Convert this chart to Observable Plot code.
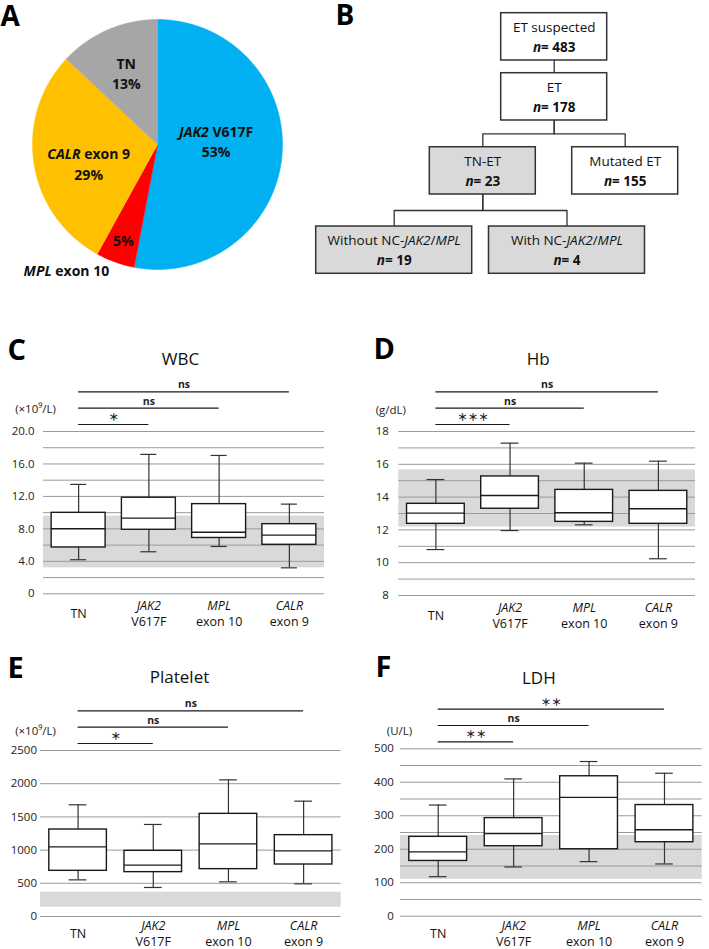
<!DOCTYPE html>
<html><head><meta charset="utf-8">
<script src="https://cdn.jsdelivr.net/npm/d3@7"></script>
<script src="https://cdn.jsdelivr.net/npm/@observablehq/plot@0.6"></script>
<style>
body{margin:0;background:#fff;font-family:"Open Sans",sans-serif;}
#root{position:relative;width:709px;height:949px;overflow:hidden;background:#fff;}
#root svg{position:absolute;}
</style></head><body><div id="root"></div>
<script>
// ---------------- DATA ----------------
// Panel A: pie
const pieCategories = ["JAK2 V617F", "MPL exon 10", "CALR exon 9", "TN"];
const piePercents = [53, 5, 29, 13];
const pieColors = ["#00B0F0", "#FF0000", "#FFC000", "#A6A6A6"];

// Panel B: flow chart
const flowNames = ["ET suspected", "ET", "TN-ET", "Mutated ET", "Without NC-JAK2/MPL", "With NC-JAK2/MPL"];
const flowCounts = [483, 178, 23, 155, 19, 4];
const flowParent = [null, 0, 1, 1, 2, 2];
const flowShaded = [false, false, true, false, true, true];

// Panels C-F: box plots
const groups = ["TN", "JAK2 V617F", "MPL exon 10", "CALR exon 9"];
const groupLabels = ["TN", "JAK2\nV617F", "MPL\nexon 10", "CALR\nexon 9"];

const wbcLow  = [4.2, 5.18, 5.83, 3.2];
const wbcQ1   = [5.71, 7.89, 6.88, 6.04];
const wbcMed  = [8.01, 9.32, 7.58, 7.23];
const wbcQ3   = [9.98, 11.84, 11.05, 8.58];
const wbcHigh = [13.48, 17.18, 17.05, 11.05];
const wbcRef  = [3.2, 9.57];
const wbcTicks = [0, 4, 8, 12, 16, 20];
const wbcTickLabels = ["0", "4.0", "8.0", "12.0", "16.0", "20.0"];
const wbcGrid = [0, 2, 4, 6, 8, 10, 12, 14, 16, 18, 20];
const wbcSig = ["＊", "ns", "ns"];

const hbLow  = [10.8, 11.96, 12.31, 10.24];
const hbQ1   = [12.37, 13.29, 12.49, 12.37];
const hbMed  = [13.02, 14.1, 13.05, 13.29];
const hbQ3   = [13.59, 15.26, 14.44, 14.38];
const hbHigh = [15.07, 17.29, 16.07, 16.19];
const hbRef  = [12.17, 15.66];
const hbTicks = [8, 10, 12, 14, 16, 18];
const hbTickLabels = ["8", "10", "12", "14", "16", "18"];
const hbGrid = [8, 9, 10, 11, 12, 13, 14, 15, 16, 17, 18];
const hbSig = ["＊＊＊", "ns", "ns"];

const pltLow  = [552, 437, 522, 492];
const pltQ1   = [688, 668, 713, 783];
const pltMed  = [1049, 773, 1094, 989];
const pltQ3   = [1310, 989, 1546, 1225];
const pltHigh = [1682, 1386, 2058, 1737];
const pltRef  = [140, 366];
const pltTicks = [0, 500, 1000, 1500, 2000, 2500];
const pltTickLabels = ["0", "500", "1000", "1500", "2000", "2500"];
const pltGrid = [0, 500, 1000, 1500, 2000, 2500];
const pltSig = ["＊", "ns", "ns"];

const ldhLow  = [118, 147, 163, 156];
const ldhQ1   = [165, 209, 200, 221];
const ldhMed  = [192, 247, 355, 258];
const ldhQ3   = [237, 293, 418, 332];
const ldhHigh = [332, 410, 462, 427];
const ldhRef  = [110, 241];
const ldhTicks = [0, 100, 200, 300, 400, 500];
const ldhTickLabels = ["0", "100", "200", "300", "400", "500"];
const ldhGrid = [0, 50, 100, 150, 200, 250, 300, 350, 400, 450, 500];
const ldhSig = ["＊＊", "ns", "＊＊"];

// ---------------- HELPERS ----------------
const FONT = '"Open Sans","Noto Sans CJK JP",sans-serif';
const root = document.getElementById("root");
function place(svg, left, top) {
  svg.style.left = left + "px";
  svg.style.top = top + "px";
  root.appendChild(svg);
}
function italicize(svg) {
  const walker = document.createTreeWalker(svg, NodeFilter.SHOW_TEXT);
  const nodes = [];
  while (walker.nextNode()) nodes.push(walker.currentNode);
  const re = /(JAK2|MPL|CALR|^n(?==))/;
  for (const t of nodes) {
    const s = t.nodeValue;
    if (!re.test(s)) continue;
    const parts = s.split(re);
    const frag = document.createDocumentFragment();
    parts.forEach((p, i) => {
      if (!p) return;
      if (i % 2 === 1) {
        const ts = document.createElementNS("http://www.w3.org/2000/svg", "tspan");
        ts.setAttribute("font-style", "italic");
        ts.textContent = p;
        frag.appendChild(ts);
      } else frag.appendChild(document.createTextNode(p));
    });
    t.parentNode.replaceChild(frag, t);
  }
}

// ---------------- PANEL A ----------------
(function () {
  const arcs = d3.pie().sort(null).value(d => d)(piePercents);
  // label placement (style): angle in degrees clockwise from top, radius fraction
  const lp = [
    {a: 86, r: 0.47},
    {a: 199.8, r: 0.81, outA: 216, outR: 1.24},
    {a: 255, r: 0.57},
    {a: 336.6, r: 0.63}
  ];
  const marks = [];
  arcs.forEach((arc, i) => {
    const pts = [{x: 0, y: 0}];
    const n = Math.max(8, Math.ceil((arc.endAngle - arc.startAngle) / 0.01));
    for (let k = 0; k <= n; k++) {
      const t = arc.startAngle + (arc.endAngle - arc.startAngle) * k / n;
      pts.push({x: Math.sin(t), y: Math.cos(t)});
    }
    marks.push(Plot.line(pts, {x: "x", y: "y", fill: pieColors[i], stroke: pieColors[i], strokeWidth: 0.5}));
  });
  const labels = [];
  const rad = a => a * Math.PI / 180;
  arcs.forEach((arc, i) => {
    const p = lp[i];
    if (p.outA !== undefined) {
      labels.push({x: p.r * Math.sin(rad(p.a)), y: p.r * Math.cos(rad(p.a)), t: piePercents[i] + "%"});
      labels.push({x: p.outR * Math.sin(rad(p.outA)), y: p.outR * Math.cos(rad(p.outA)), t: pieCategories[i]});
    } else {
      labels.push({x: p.r * Math.sin(rad(p.a)), y: p.r * Math.cos(rad(p.a)), t: pieCategories[i] + "\n" + piePercents[i] + "%"});
    }
  });
  marks.push(Plot.text(labels, {x: "x", y: "y", text: "t", fontSize: 14, fontWeight: "bold", fill: "#111", lineHeight: 1.45}));
  marks.push(Plot.text(["A"], {frameAnchor: "top-left", dx: 0, dy: 17, textAnchor: "start", lineAnchor: "middle", fontSize: 28, fontWeight: "bold", fill: "#000"}));
  const cx = 157, cy = 144, r = 125;
  const svg = Plot.plot({
    width: 300, height: 290, margin: 0,
    style: {fontFamily: FONT, background: "transparent", overflow: "visible"},
    x: {domain: [-1, 1], range: [cx - r, cx + r], axis: null},
    y: {domain: [-1, 1], range: [cy + r, cy - r], axis: null},
    marks
  });
  italicize(svg);
  place(svg, 0, 0);
})();

// ---------------- PANEL B ----------------
(function () {
  const depth = [];
  flowParent.forEach((p, i) => { depth[i] = p === null ? 0 : depth[p] + 1; });
  // layout (style): row top per depth, column centre per node, box sizes
  const rowTop = [0, 0.844, 1.885, 3.0];
  const col = [0, 0, -0.714, 0.71, -1.6, 0.128];
  const boxH = 0.665;
  const nodes = flowNames.map((name, i) => {
    const w = name.length > 12 ? 1.56 : 1.06;
    return {i, name, n: flowCounts[i], shaded: flowShaded[i], cx: col[i], w, top: rowTop[depth[i]], bottom: rowTop[depth[i]] + boxH};
  });
  const conn = [];
  nodes.forEach(c => {
    const p = flowParent[c.i];
    if (p === null) return;
    const P = nodes[p];
    const mid = (P.bottom + c.top) / 2;
    conn.push({id: c.i, x: P.cx, y: P.bottom});
    conn.push({id: c.i, x: P.cx, y: mid});
    conn.push({id: c.i, x: c.cx, y: mid});
    conn.push({id: c.i, x: c.cx, y: c.top});
  });
  const svg = Plot.plot({
    width: 409, height: 290, margin: 0,
    style: {fontFamily: FONT, background: "transparent", overflow: "visible"},
    x: {domain: [-2.537, 1.553], range: [0, 409], axis: null},
    y: {domain: [-0.1786, 3.9], range: [0, 290], axis: null},
    marks: [
      Plot.line(conn, {x: "x", y: "y", z: "id", stroke: "#333", strokeWidth: 1.3}),
      Plot.rect(nodes.filter(d => d.shaded), {x1: d => d.cx - d.w / 2, x2: d => d.cx + d.w / 2, y1: "top", y2: "bottom", fill: "#d9d9d9", stroke: "#333", strokeWidth: 1.5}),
      Plot.rect(nodes.filter(d => !d.shaded), {x1: d => d.cx - d.w / 2, x2: d => d.cx + d.w / 2, y1: "top", y2: "bottom", fill: "white", stroke: "#333", strokeWidth: 1.5}),
      Plot.text(nodes, {x: "cx", y: d => d.top + boxH * 0.31, text: "name", fontSize: 13.5, fill: "#111"}),
      Plot.text(nodes, {x: "cx", y: d => d.top + boxH * 0.72, text: d => "n= " + d.n, fontSize: 13.5, fontWeight: "bold", fill: "#111"}),
      Plot.text(["B"], {frameAnchor: "top-left", dx: 35, dy: 16, textAnchor: "start", lineAnchor: "middle", fontSize: 28, fontWeight: "bold", fill: "#000"})
    ]
  });
  italicize(svg);
  place(svg, 300, 0);
})();

// ---------------- PANELS C-F ----------------
function boxPanel(c) {
  const rows = groups.map((g, i) => ({i, g, lo: c.low[i], q1: c.q1[i], med: c.med[i], q3: c.q3[i], hi: c.high[i], label: groupLabels[i]}));
  const [y0, y1] = c.domain;
  const fh = c.height - c.mt - c.mb;
  const upp = (y1 - y0) / fh;
  const sig = c.sig.map((s, k) => ({to: k + 1, label: s, y: y1 + (7 + 16.3 * k) * upp}));
  const hw = c.boxHalf, cw = c.capHalf;
  const svg = Plot.plot({
    width: c.width, height: c.height,
    marginLeft: c.ml, marginRight: c.mr, marginTop: c.mt, marginBottom: c.mb,
    style: {fontFamily: FONT, fontSize: "11.5px", color: "#222", background: "transparent", overflow: "visible"},
    x: {domain: [-0.5, 3.5], axis: null},
    y: {domain: c.domain, ticks: c.ticks, tickFormat: d => c.tickLabels[c.ticks.indexOf(d)], tickSize: 0, tickPadding: c.tp, label: null},
    marks: [
      Plot.rect([c.ref], {y1: d => d[0], y2: d => d[1], fill: "#d9d9d9"}),
      Plot.ruleY(c.grid, {stroke: "#9a9a9a", strokeWidth: 1}),
      Plot.ruleX(rows, {x: "i", y1: "lo", y2: "hi", stroke: "#333", strokeWidth: 1.2}),
      Plot.ruleY(rows, {y: "lo", x1: d => d.i - cw, x2: d => d.i + cw, stroke: "#333", strokeWidth: 1.2}),
      Plot.ruleY(rows, {y: "hi", x1: d => d.i - cw, x2: d => d.i + cw, stroke: "#333", strokeWidth: 1.2}),
      Plot.rect(rows, {x1: d => d.i - hw, x2: d => d.i + hw, y1: "q1", y2: "q3", fill: "white", stroke: "#1a1a1a", strokeWidth: 1.4}),
      Plot.ruleY(rows, {y: "med", x1: d => d.i - hw, x2: d => d.i + hw, stroke: "#1a1a1a", strokeWidth: 1.4}),
      Plot.ruleY(sig, {y: "y", x1: () => 0, x2: d => d.to, stroke: "#1a1a1a", strokeWidth: 1.2}),
      Plot.text(sig, {x: d => d.to / 2, y: "y", text: "label", dy: -7, fontSize: 10.5, fontWeight: "bold", fill: "#222"}),
      Plot.text(rows, {x: "i", y: () => y0, dy: c.labelDY, text: "label", fontSize: 12.5, lineHeight: 1.28, fill: "#111"}),
      Plot.text([c.title], {frameAnchor: "top-left", dx: c.titleDX, dy: c.titleDY, textAnchor: "middle", lineAnchor: "middle", text: d => d, fontSize: 17, fill: "#111"}),
      Plot.text([c.letter], {frameAnchor: "top-left", dx: c.letterDX, dy: c.letterDY, textAnchor: "start", lineAnchor: "middle", text: d => d, fontSize: 29, fontWeight: "bold", fill: "#000"}),
      Plot.text([c.unit], {frameAnchor: "top-left", dx: c.unitDX, dy: c.unitDY, textAnchor: "middle", lineAnchor: "middle", text: d => d, fontSize: 11.5, fill: "#222"})
    ]
  });
  italicize(svg);
  place(svg, c.left, c.top);
}

boxPanel({letter: "C", title: "WBC", unit: "(×10⁹/L)", low: wbcLow, q1: wbcQ1, med: wbcMed, q3: wbcQ3, high: wbcHigh,
  ref: wbcRef, ticks: wbcTicks, tickLabels: wbcTickLabels, grid: wbcGrid, sig: wbcSig, domain: [0, 20],
  left: 0, top: 320, width: 355, height: 310, ml: 43, mr: 31, mt: 111, mb: 36.7, tp: 9, labelDY: 19.5,
  boxHalf: 0.384, capHalf: 0.114, titleDX: 137, titleDY: -72, letterDX: -36, letterDY: -81, unitDX: -8, unitDY: -22});

boxPanel({letter: "D", title: "Hb", unit: "(g/dL)", low: hbLow, q1: hbQ1, med: hbMed, q3: hbQ3, high: hbHigh,
  ref: hbRef, ticks: hbTicks, tickLabels: hbTickLabels, grid: hbGrid, sig: hbSig, domain: [8, 18],
  left: 355, top: 320, width: 354, height: 310, ml: 43.3, mr: 14, mt: 111, mb: 35, tp: 10, labelDY: 19.5,
  boxHalf: 0.389, capHalf: 0.12, titleDX: 139.4, titleDY: -72, letterDX: -25.3, letterDY: -82, unitDX: -8, unitDY: -20.7});

boxPanel({letter: "E", title: "Platelet", unit: "(×10⁹/L)", low: pltLow, q1: pltQ1, med: pltMed, q3: pltQ3, high: pltHigh,
  ref: pltRef, ticks: pltTicks, tickLabels: pltTickLabels, grid: pltGrid, sig: pltSig, domain: [0, 2500],
  left: 0, top: 630, width: 355, height: 319, ml: 40, mr: 14.3, mt: 120, mb: 33, tp: 3.5, labelDY: 16.5,
  boxHalf: 0.383, capHalf: 0.118, titleDX: 139, titleDY: -73.3, letterDX: -33, letterDY: -82, unitDX: -5, unitDY: -19});

boxPanel({letter: "F", title: "LDH", unit: "(U/L)", low: ldhLow, q1: ldhQ1, med: ldhMed, q3: ldhQ3, high: ldhHigh,
  ref: ldhRef, ticks: ldhTicks, tickLabels: ldhTickLabels, grid: ldhGrid, sig: ldhSig, domain: [0, 500],
  left: 355, top: 630, width: 354, height: 319, ml: 45, mr: 7.3, mt: 118.3, mb: 33.3, tp: 6.7, labelDY: 16.5,
  boxHalf: 0.383, capHalf: 0.117, titleDX: 138.3, titleDY: -70.6, letterDX: -25, letterDY: -80.8, unitDX: -1, unitDY: -17.3});
</script>
</body></html>
